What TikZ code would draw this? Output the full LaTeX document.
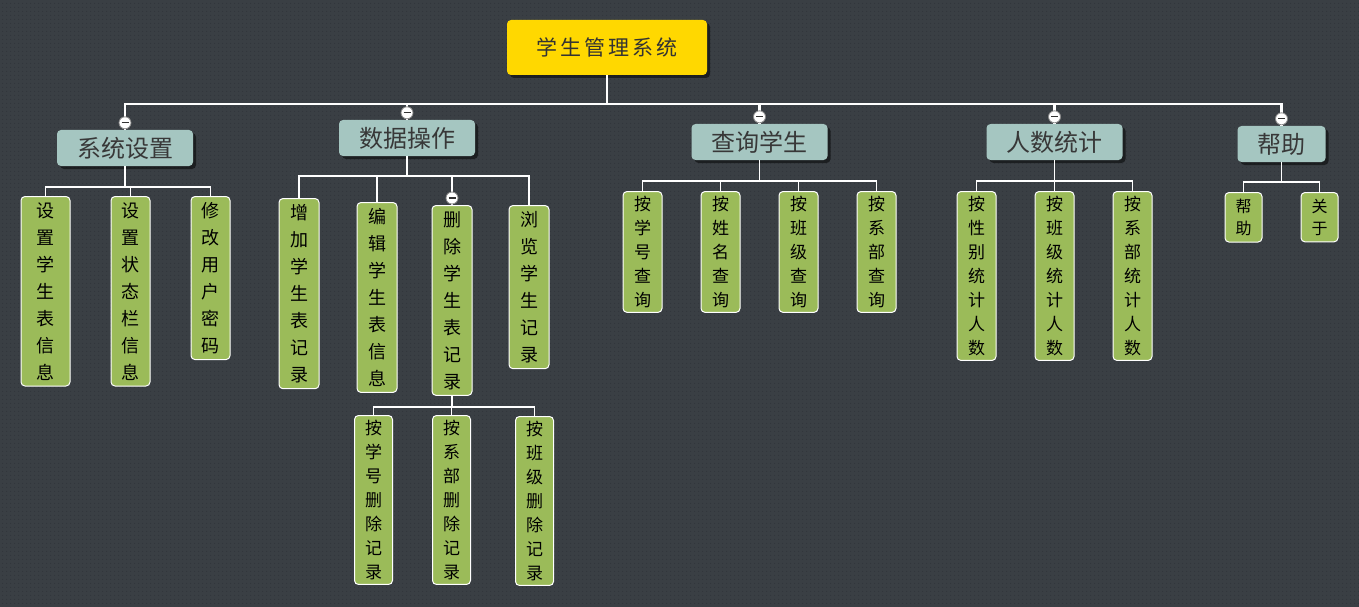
\documentclass[tikz,border=0pt]{standalone}
\usepackage{fontspec}
\setmainfont{Noto Sans CJK SC}
\newfontfamily\rootfont[LetterSpace=14]{Noto Sans CJK SC}
\usepackage{xcolor}
\usetikzlibrary{positioning, shadows, patterns.meta}

\definecolor{bgdark}{HTML}{3A3F44}
\definecolor{bgdot}{HTML}{30343A}
\definecolor{rootgold}{HTML}{FFD800}
\definecolor{topicgray}{HTML}{A5C6C1}
\definecolor{topictext}{HTML}{383838}
\definecolor{leafgreen}{HTML}{9BBB59}

\begin{document}
\begin{tikzpicture}[x=1pt, y=-1pt,
    root/.style={fill=rootgold, rounded corners=4pt, minimum width=200pt, minimum height=55pt, font=\rootfont\fontsize{21}{21}\selectfont, text=black!80, drop shadow={shadow xshift=3pt, shadow yshift=-3pt, fill=black, opacity=0.5}},
    topic/.style={fill=topicgray, rounded corners=4pt, minimum height=36pt, inner xsep=20pt, font=\fontsize{24}{24}\selectfont, text=topictext, drop shadow={shadow xshift=3pt, shadow yshift=-3pt, fill=black, opacity=0.5}},
    leaf/.style={fill=leafgreen, draw=white, line width=1pt, rounded corners=4pt, minimum width=39pt, inner xsep=0pt, inner ysep=4.6pt, align=center, anchor=north, font=\fontsize{17}{24}\selectfont},
    tallleaf/.style={leaf, inner ysep=5.8pt, font=\fontsize{18}{27}\selectfont},
    smallleaf/.style={leaf, minimum width=37pt, inner ysep=6.4pt, font=\fontsize{16}{22}\selectfont},
    trunk/.style={draw=white, line width=2.2pt},
    branch/.style={draw=white, line width=1.6pt},
    fold/.style={circle, draw=black!45, fill=white, line width=0.8pt, minimum size=12pt, inner sep=0pt,
      path picture={\draw[black!80, line width=1.3pt] ([xshift=-3.5pt]path picture bounding box.center) -- ([xshift=3.5pt]path picture bounding box.center);}}]

    % Background
    \useasboundingbox (0,0) rectangle (1359,607);
    \fill[bgdark] (0,0) rectangle (1359,607);
    \fill[pattern={Dots[distance=4pt, radius=0.6pt]}, pattern color=bgdot] (0,0) rectangle (1359,607);

    % Nodes
    \node (root) [root] at (607,47.5) {学生管理系统};
    \node (sys) [topic] at (125,148) {系统设置};
    \node (data) [topic] at (407,138) {数据操作};
    \node (query) [topic] at (759.5,142) {查询学生};
    \node (count) [topic] at (1054.5,142) {人数统计};
    \node (help) [topic] at (1281.5,144) {帮助};

    \node (sys-tab) [tallleaf, minimum width=49pt] at (45.5,196) {设\\置\\学\\生\\表\\信\\息};
    \node (sys-bar) [tallleaf] at (130.5,196) {设\\置\\状\\态\\栏\\信\\息};
    \node (sys-pwd) [tallleaf] at (210.5,196) {修\\改\\用\\户\\密\\码};

    \node (data-add) [tallleaf, minimum width=40pt] at (299,198) {增\\加\\学\\生\\表\\记\\录};
    \node (data-edit) [tallleaf, minimum width=40pt] at (377,202) {编\\辑\\学\\生\\表\\信\\息};
    \node (data-del) [tallleaf, minimum width=40pt] at (452,205) {删\\除\\学\\生\\表\\记\\录};
    \node (data-view) [tallleaf, minimum width=40pt] at (529,205) {浏\\览\\学\\生\\记\\录};

    \node (del-id) [leaf, minimum width=38pt] at (373.5,415) {按\\学\\号\\删\\除\\记\\录};
    \node (del-dept) [leaf, minimum width=38pt] at (451.5,415) {按\\系\\部\\删\\除\\记\\录};
    \node (del-class) [leaf, minimum width=38pt] at (534.5,416) {按\\班\\级\\删\\除\\记\\录};

    \node (q-id) [leaf] at (642.5,191) {按\\学\\号\\查\\询};
    \node (q-name) [leaf] at (720.5,191) {按\\姓\\名\\查\\询};
    \node (q-class) [leaf] at (798.5,191) {按\\班\\级\\查\\询};
    \node (q-dept) [leaf] at (876.5,191) {按\\系\\部\\查\\询};

    \node (c-sex) [leaf] at (976.5,191) {按\\性\\别\\统\\计\\人\\数};
    \node (c-class) [leaf] at (1054.5,191) {按\\班\\级\\统\\计\\人\\数};
    \node (c-dept) [leaf] at (1132.5,191) {按\\系\\部\\统\\计\\人\\数};

    \node (h-help) [smallleaf] at (1243.5,192) {帮\\助};
    \node (h-about) [smallleaf] at (1319.5,192) {关\\于};

    % Links
    \draw[trunk] (root.south) -- ++(0,29) -| (sys.north);
    \draw[trunk] (root.south) -- ++(0,29) -| (data.north);
    \draw[trunk] (root.south) -- ++(0,29) -| (query.north);
    \draw[trunk] (root.south) -- ++(0,29) -| (count.north);
    \draw[trunk] (root.south) -- ++(0,29) -| (help.north);

    \draw[branch] (sys.south) -- ++(0,21) -| (sys-tab.north);
    \draw[branch] (sys.south) -- ++(0,21) -| (sys-bar.north);
    \draw[branch] (sys.south) -- ++(0,21) -| (sys-pwd.north);

    \draw[branch] (data.south) -- ++(0,20) -| (data-add.north);
    \draw[branch] (data.south) -- ++(0,20) -| (data-edit.north);
    \draw[branch] (data.south) -- ++(0,20) -| (data-del.north);
    \draw[branch] (data.south) -- ++(0,20) -| (data-view.north);

    \draw[branch] (data-del.south) -- ++(0,11) -| (del-id.north);
    \draw[branch] (data-del.south) -- ++(0,11) -| (del-dept.north);
    \draw[branch] (data-del.south) -- ++(0,11) -| (del-class.north);

    \draw[branch] (query.south) -- ++(0,21) -| (q-id.north);
    \draw[branch] (query.south) -- ++(0,21) -| (q-name.north);
    \draw[branch] (query.south) -- ++(0,21) -| (q-class.north);
    \draw[branch] (query.south) -- ++(0,21) -| (q-dept.north);

    \draw[branch] (count.south) -- ++(0,21) -| (c-sex.north);
    \draw[branch] (count.south) -- ++(0,21) -| (c-class.north);
    \draw[branch] (count.south) -- ++(0,21) -| (c-dept.north);

    \draw[branch] (help.south) -- ++(0,20) -| (h-help.north);
    \draw[branch] (help.south) -- ++(0,20) -| (h-about.north);

    % Fold markers
    \node (fold-sys) [fold] at ([yshift=7pt]sys.north) {};
    \node (fold-data) [fold] at ([yshift=7pt]data.north) {};
    \node (fold-query) [fold] at ([yshift=7pt]query.north) {};
    \node (fold-count) [fold] at ([yshift=7pt]count.north) {};
    \node (fold-help) [fold] at ([yshift=7pt]help.north) {};
    \node (fold-del) [fold] at ([yshift=7pt]data-del.north) {};
\end{tikzpicture}
\end{document}
